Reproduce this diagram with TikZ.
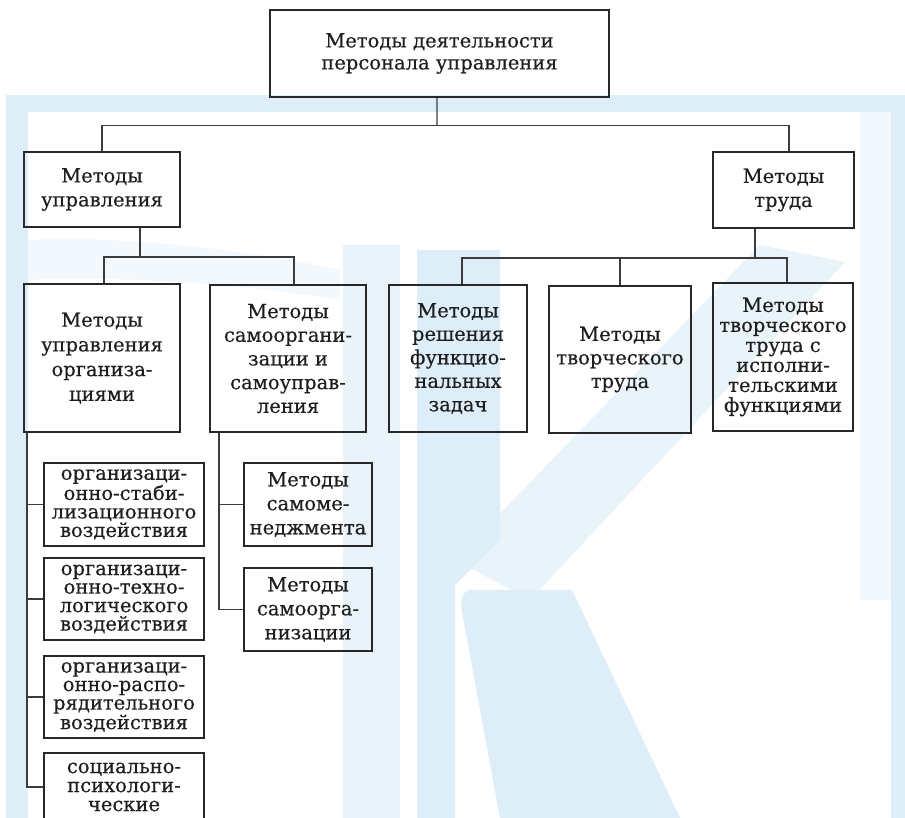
\documentclass[tikz,border=0pt]{standalone}
\usepackage{fontspec}
\setmainfont{DejaVu Serif}[FakeBold=0.35]

\definecolor{ink}{RGB}{30,30,30}
\definecolor{edge}{RGB}{40,40,40}
\definecolor{wire}{RGB}{60,60,60}
\definecolor{band}{RGB}{222,238,248}
\definecolor{wmA}{RGB}{221,238,248}
\definecolor{wmB}{RGB}{232,243,250}
\definecolor{wmC}{RGB}{243,248,252}

\tikzset{
  box/.style={draw=edge, line width=2bp, text=ink, align=center, inner sep=0pt},
  lead/.style={font=\fontsize{19.5bp}{#1}\selectfont},
  conn/.style={draw=wire, line width=1.2bp},
}

\begin{document}
\begin{tikzpicture}[x=1bp, y=-1bp]
  \useasboundingbox (0,0) rectangle (905,818);
  \clip (0,0) rectangle (905,818);

  % pale frame and emblem behind the chart
  \fill[white] (0,0) rectangle (905,818);
  \fill[band] (6,95) rectangle (905,818);
  \fill[white] (28,112) rectangle (891,818);
  \fill[wmC] (28,240) .. controls (120,235) and (250,250) .. (340,270)
             -- (340,300) .. controls (250,285) and (120,275) .. (28,280) -- cycle;
  \fill[wmC] (860,112) rectangle (891,600);
  \fill[wmB] (343,245) rectangle (400,818);
  \fill[wmB] (455,560) -- (760,245) -- (845,262) -- (530,600) -- cycle;
  \fill[wmA] (417,250) -- (500,250) -- (500,540) -- (455,585) -- (455,818) -- (417,818) -- cycle;
  \fill[wmA] (470,590) .. controls (462,592) and (460,600) .. (462,612)
                -- (500,818) -- (680,818) -- (572,590) -- cycle;

  % boxes
  \node[box, lead=22bp, minimum width=339bp, minimum height=87bp] (top) at (439.5,53.5)
    {Методы деятельности\\персонала управления};
  \node[box, lead=24bp, minimum width=156bp, minimum height=75bp] (mu) at (102,189.5)
    {Методы\\управления};
  \node[box, lead=24bp, minimum width=141bp, minimum height=76bp] (mt) at (783.5,190)
    {Методы\\труда};

  \node[box, lead=24.7bp, minimum width=156bp, minimum height=148bp] (A) at (102,358)
    {Методы\\управления\\организа-\\циями};
  \node[box, lead=23.7bp, minimum width=156bp, minimum height=147bp] (B) at (288,358.5)
    {Методы\\самооргани-\\зации и\\самоуправ-\\ления};
  \node[box, lead=23.5bp, minimum width=138bp, minimum height=147bp] (C) at (458,358.5)
    {Методы\\решения\\функцио-\\нальных\\задач};
  \node[box, lead=23.5bp, minimum width=142bp, minimum height=147bp] (D) at (620,359.5)
    {Методы\\творческого\\труда};
  \node[box, lead=20bp, minimum width=140bp, minimum height=148bp] (E) at (783,357)
    {Методы\\творческого\\труда с\\исполни-\\тельскими\\функциями};

  \node[box, lead=18.5bp, minimum width=160bp, minimum height=83bp] (s1) at (124,504.5)
    {организаци-\\онно-стаби-\\лизационного\\воздействия};
  \node[box, lead=18.5bp, minimum width=160bp, minimum height=82bp] (s2) at (124,599)
    {организаци-\\онно-техно-\\логического\\воздействия};
  \node[box, lead=18.5bp, minimum width=160bp, minimum height=82bp] (s3) at (124,697)
    {организаци-\\онно-распо-\\рядительного\\воздействия};
  \node[box, lead=19bp, minimum width=160bp, minimum height=68bp] (s4) at (124,787)
    {социально-\\психологи-\\ческие};

  \node[box, lead=24bp, minimum width=128bp, minimum height=83bp] (m1) at (308,504.5)
    {Методы\\самоме-\\неджмента};
  \node[box, lead=24bp, minimum width=128bp, minimum height=83bp] (m2) at (308,609.5)
    {Методы\\самоорга-\\низации};

  % first level
  \coordinate (j1) at (437,125.5);
  \draw[conn] ([xshift=-2.5bp]top.south) -- (j1);
  \draw[conn] (mu.north) |- (j1) -| ([xshift=5.5bp]mt.north);

  % second level, management branch
  \draw[conn] ([xshift=38bp]mu.south) -- ++(0,29) coordinate (j2);
  \draw[conn] ([xshift=2bp]A.north) |- (j2) -| ([xshift=6bp]B.north);

  % second level, labour branch
  \draw[conn] ([xshift=-28.5bp]mt.south) -- ++(0,29) coordinate (j3);
  \draw[conn] ([xshift=4bp]C.north) |- (j3) -| ([xshift=4bp]E.north);
  \draw[conn] (D.north) -- (D.north |- j3);

  % kinds of organisational influence
  \coordinate (ta) at ([xshift=4bp]A.south west);
  \draw[conn] (ta) |- (s4.west);
  \foreach \k in {s1,s2,s3} \draw[conn] (ta |- \k.west) -- (\k.west);

  % self-organisation methods
  \coordinate (tb) at ([xshift=10bp]B.south west);
  \draw[conn] (tb) |- (m2.west);
  \draw[conn] (tb |- m1.west) -- (m1.west);
\end{tikzpicture}
\end{document}
